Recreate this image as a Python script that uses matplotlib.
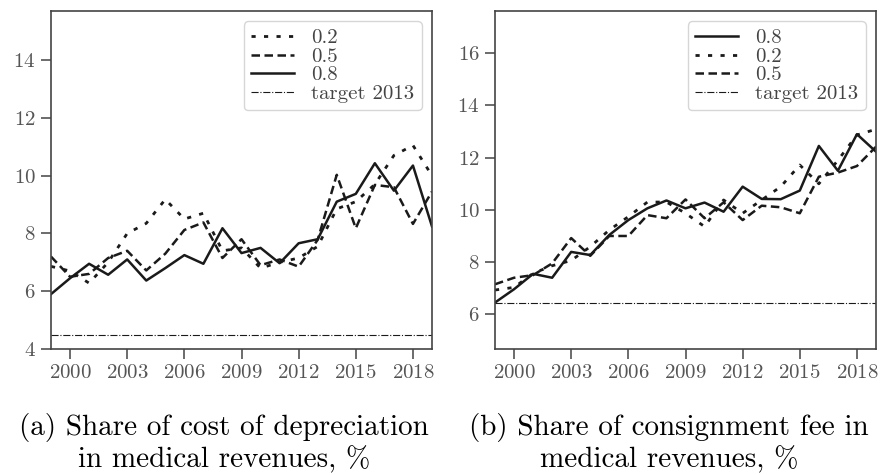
import numpy as np
import matplotlib
matplotlib.use("Agg")
from matplotlib import pyplot as plt

# Data
years = np.arange(1999, 2020)

# (a) share of cost of depreciation, %
dep_02 = [6.86, 6.7, 6.28, 7.0, 8.0, 8.35, 9.18, 8.5, 8.7, 7.4, 7.5, 6.8, 7.0, 7.15, 7.55, 8.85, 9.1, 9.7, 10.7, 11.05, 10.0]
dep_05 = [7.2, 6.5, 6.6, 7.15, 7.4, 6.72, 7.3, 8.12, 8.38, 7.15, 7.8, 6.9, 7.1, 6.85, 7.78, 10.03, 8.18, 9.68, 9.6, 8.33, 9.45]
dep_08 = [5.9, 6.45, 6.95, 6.57, 7.1, 6.37, 6.8, 7.25, 6.95, 8.18, 7.32, 7.5, 6.97, 7.66, 7.8, 9.1, 9.37, 10.43, 9.48, 10.35, 8.24]
dep_target = 4.5

# (b) share of consignment fee, %
fee_08 = [6.45, 6.96, 7.55, 7.4, 8.39, 8.27, 9.04, 9.61, 10.06, 10.36, 10.06, 10.28, 9.93, 10.89, 10.42, 10.41, 10.74, 12.45, 11.5, 12.9, 12.23]
fee_02 = [6.93, 7.03, 7.57, 7.86, 8.06, 8.59, 9.23, 9.74, 10.3, 10.3, 9.87, 9.36, 10.38, 9.87, 10.38, 10.89, 11.72, 11.0, 11.9, 12.87, 13.09]
fee_05 = [7.15, 7.4, 7.5, 7.95, 8.92, 8.24, 9.0, 9.0, 9.8, 9.68, 10.4, 9.68, 10.29, 9.61, 10.16, 10.1, 9.87, 11.27, 11.43, 11.68, 12.42]
fee_target = 6.42

xticks = [2000, 2003, 2006, 2009, 2012, 2015, 2018]
captions = ["(a) Share of cost of depreciation\nin medical revenues, %",
            "(b) Share of consignment fee in\nmedical revenues, %"]

plt.rcParams['font.family'] = ['cmr10', 'DejaVu Serif']
plt.rcParams['mathtext.fontset'] = 'cm'
plt.rcParams['axes.formatter.use_mathtext'] = True
plt.rcParams['axes.unicode_minus'] = False

line_col = '#1a1a1a'
styles = {
    '0.2': dict(linestyle=(0, (1.5, 3)), lw=2.0),
    '0.5': dict(linestyle=(0, (3.4, 1.8)), lw=1.8),
    '0.8': dict(linestyle='-', lw=1.8),
}

fig = plt.figure(figsize=(8.92, 4.75), dpi=100)
ax1 = fig.add_axes([51 / 892, 1 - 349 / 475, 381 / 892, 338 / 475])
ax2 = fig.add_axes([495 / 892, 1 - 349 / 475, 381 / 892, 338 / 475])


def style_axes(ax):
    for s in ax.spines.values():
        s.set_color('#444444')
        s.set_linewidth(1.2)
    ax.tick_params(direction='out', length=7, width=1.1, color='#444444',
                   labelcolor='#555555', labelsize=15, pad=4)
    ax.set_xticks(xticks)
    ax.set_xlim(1999, 2019)


# panel (a)
ax1.plot(years, dep_02, color=line_col, label='0.2', **styles['0.2'])
ax1.plot(years, dep_05, color=line_col, label='0.5', **styles['0.5'])
ax1.plot(years, dep_08, color=line_col, label='0.8', **styles['0.8'])
ax1.axhline(dep_target, color=line_col, lw=0.8, linestyle='-.', label='target 2013')
ax1.set_ylim(4, 15.7)
ax1.set_yticks([4, 6, 8, 10, 12, 14])
style_axes(ax1)

# panel (b)
ax2.plot(years, fee_08, color=line_col, label='0.8', **styles['0.8'])
ax2.plot(years, fee_02, color=line_col, label='0.2', **styles['0.2'])
ax2.plot(years, fee_05, color=line_col, label='0.5', **styles['0.5'])
ax2.axhline(fee_target, color=line_col, lw=0.8, linestyle='-.', label='target 2013')
ax2.set_ylim(4.67, 17.62)
ax2.set_yticks([6, 8, 10, 12, 14, 16])
style_axes(ax2)

for ax in (ax1, ax2):
    leg = ax.legend(loc='upper right', fontsize=15, frameon=True, fancybox=True,
                    handlelength=2.07, labelspacing=0.0, borderpad=0.35,
                    handletextpad=0.82, borderaxespad=0.5)
    leg.get_frame().set_edgecolor('#cccccc')
    leg.get_frame().set_linewidth(1.0)
    for t in leg.get_texts():
        t.set_color('#444444')

# captions centred on each half of the figure
for cx, cap in zip((224 / 892, 669 / 892), captions):
    fig.text(cx, 0.067, cap, ha='center', va='center',
             fontsize=21, linespacing=1.15)

fig.savefig('out.png', dpi=100)
